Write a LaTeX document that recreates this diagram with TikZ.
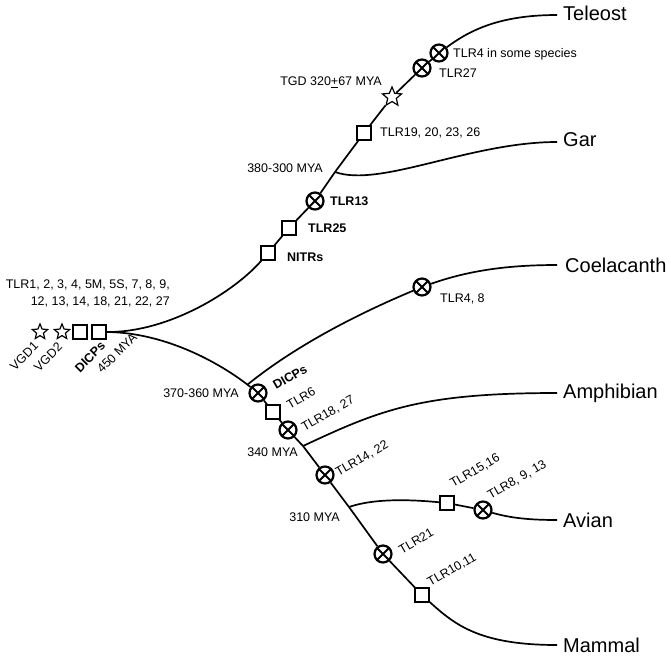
\documentclass[tikz,border=0pt]{standalone}
\usepackage{fontspec}
\setmainfont{Liberation Sans}
\usetikzlibrary{shapes.geometric}

\tikzset{
  branch/.style={line width=1.7pt},
  gain/.style={draw, rectangle, line width=1.4pt, fill=white, minimum size=14pt, inner sep=0pt},
  loss/.style={draw, circle, line width=2.2pt, fill=white, minimum size=17pt, inner sep=0pt,
    path picture={\draw[line width=2pt]
      (path picture bounding box.south west) -- (path picture bounding box.north east)
      (path picture bounding box.north west) -- (path picture bounding box.south east);}},
  wgd/.style={draw, star, star points=5, star point ratio=2.2, line width=1.2pt,
    fill=white, inner sep=0pt, minimum size=#1},
  wgd/.default=16pt,
  tag/.style={font=\fontsize{12.5}{17}\selectfont, inner sep=0pt},
  taxon/.style={font=\fontsize{20}{24}\selectfont, inner sep=0pt, anchor=west},
}

\begin{document}
\begin{tikzpicture}[x=1pt, y=-1pt]
  \useasboundingbox (0,0) rectangle (671,656);

  % --- root ---
  \node[wgd] (vgd1) at (40,332) {};
  \node[wgd] (vgd2) at (62,332) {};
  \node[gain] (dicpsa) at (80,332) {};
  \node[gain] (dicpsb) at (99,332) {};
  \coordinate (root) at (108,332);
  \draw[branch] (dicpsb) -- (root);
  \node[tag, align=right, anchor=east] (ancestral) at (170,293.5)
    {TLR1, 2, 3, 4, 5M, 5S, 7, 8, 9,\\12, 13, 14, 18, 21, 22, 27};
  \node[tag, rotate=45] (lvgd1) at (24,356) {VGD1};
  \node[tag, rotate=45] (lvgd2) at (48,357) {VGD2};
  \node[tag, rotate=45, font=\fontsize{12.5}{17}\selectfont\bfseries] (ldicps) at (90,357) {DICPs};
  \node[tag, rotate=45] (lroot) at (117,353) {450 MYA};

  % --- ray-finned fish ---
  \node[gain] (nitrs) at (268,253) {};
  \node[gain] (tlr25) at (289,228) {};
  \node[loss] (tlr13) at (315,201) {};
  \coordinate (garjn) at (335,172);
  \node[gain] (tlr19) at (364,133) {};
  \node[wgd=20pt] (tgd) at (392,97) {};
  \node[loss] (tlr27) at (422,68) {};
  \node[loss] (tlr4t) at (439,53) {};
  \draw[branch] (root) .. controls (170,332) and (235,291) .. (nitrs);
  \draw[branch] (nitrs) -- (tlr25) -- (tlr13) -- (garjn) -- (tlr19) -- (tgd) -- (tlr27) -- (tlr4t);
  \draw[branch] (tlr4t) .. controls (470,30) and (500,15) .. (557,15) coordinate (teleostend);
  \draw[branch] (garjn) .. controls (380,188) and (470,142) .. (557,142) coordinate (garend);
  \node[tag, anchor=west, font=\fontsize{12.5}{17}\selectfont\bfseries] (lnitrs) at (287,257) {NITRs};
  \node[tag, anchor=west, font=\fontsize{12.5}{17}\selectfont\bfseries] (ltlr25) at (308,228) {TLR25};
  \node[tag, anchor=west, font=\fontsize{12.5}{17}\selectfont\bfseries] (ltlr13) at (330,201) {TLR13};
  \node[tag, anchor=east] (lgar) at (323,168) {380-300 MYA};
  \node[tag, anchor=west] (ltlr19) at (380,133) {TLR19, 20, 23, 26};
  \node[tag, anchor=east] (ltgd) at (382,82) {TGD 320\underline{+}67 MYA};
  \node[tag, anchor=west] (ltlr27) at (439,73) {TLR27};
  \node[tag, anchor=west] (ltlr4t) at (453,54) {TLR4 in some species};

  % --- lobe-finned fish and tetrapods ---
  \node[loss] (dicpsl) at (258,393) {};
  \coordinate (coeljn) at (247,385);
  \node[loss] (tlr48) at (422,287) {};
  \node[gain] (tlr6) at (273,412) {};
  \node[loss] (tlr18) at (288,430) {};
  \coordinate (amphjn) at (303,446);
  \node[loss] (tlr14) at (325,475) {};
  \coordinate (avianjn) at (349,507);
  \node[gain] (tlr15) at (447,503) {};
  \node[loss] (tlr8) at (483,510) {};
  \node[loss] (tlr21) at (383,554) {};
  \node[gain] (tlr10) at (422,595) {};
  \draw[branch] (root) .. controls (168,333) and (223,365) .. (dicpsl);
  \draw[branch] (coeljn) .. controls (300,342) and (367,310) .. (tlr48);
  \draw[branch] (tlr48) .. controls (470,270) and (510,265) .. (557,265) coordinate (coelend);
  \draw[branch] (dicpsl) -- (tlr6) -- (tlr18) -- (amphjn) -- (tlr14) -- (avianjn) -- (tlr21) -- (tlr10);
  \draw[branch] (amphjn) .. controls (380,410) and (420,393) .. (557,393) coordinate (amphend);
  \draw[branch] (avianjn) .. controls (372,499) and (405,499) .. (tlr15);
  \draw[branch] (tlr15) -- (tlr8);
  \draw[branch] (tlr8) .. controls (510,518) and (530,520) .. (557,520) coordinate (avianend);
  \draw[branch] (tlr10) .. controls (455,625) and (480,645) .. (557,645) coordinate (mammalend);
  \node[tag, anchor=east] (lcoel) at (239,393) {370-360 MYA};
  \node[tag, anchor=west] (ltlr48) at (440,299) {TLR4, 8};
  \node[tag, rotate=30, font=\fontsize{12.5}{17}\selectfont\bfseries] (ldicpsl) at (290,377) {DICPs};
  \node[tag, rotate=30] (ltlr6) at (301,398) {TLR6};
  \node[tag, rotate=30] (ltlr18) at (328,414) {TLR18, 27};
  \node[tag, anchor=east] (lamph) at (298,452) {340 MYA};
  \node[tag, rotate=30] (ltlr14) at (362,459) {TLR14, 22};
  \node[tag, anchor=east] (lavian) at (340,517) {310 MYA};
  \node[tag, rotate=30] (ltlr15) at (475,471) {TLR15,16};
  \node[tag, rotate=30] (ltlr8) at (517,480) {TLR8, 9, 13};
  \node[tag, rotate=30] (ltlr21) at (416,541) {TLR21};
  \node[tag, rotate=30] (ltlr10) at (452,570) {TLR10,11};

  % --- taxa ---
  \node[taxon] (teleost) at (563,13) {Teleost};
  \node[taxon] (gar) at (563,140) {Gar};
  \node[taxon] (coelacanth) at (565,265) {Coelacanth};
  \node[taxon] (amphibian) at (563,393) {Amphibian};
  \node[taxon] (avian) at (563,520) {Avian};
  \node[taxon] (mammal) at (563,645) {Mammal};
\end{tikzpicture}
\end{document}
